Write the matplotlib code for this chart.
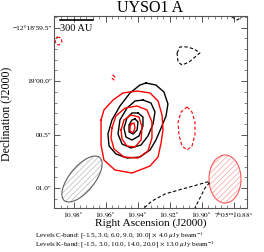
import numpy as np
import matplotlib
matplotlib.use("Agg")
import matplotlib.pyplot as plt
from matplotlib.patches import Ellipse

plt.rcParams['font.family'] = ['Liberation Serif', 'DejaVu Serif']
plt.rcParams['mathtext.fontset'] = 'stix'
plt.rcParams['hatch.linewidth'] = 0.6

# 轮廓线顶点：RA 秒 (7h05m xx.xxs) / Dec 角秒 (-12d18m xx.xx")
# 黑色 = 正等值线 (实线)
black_pos = [
    ([10.9348, 10.9286, 10.9236, 10.9211, 10.9223, 10.9254, 10.9286, 10.9323, 10.9386,
      10.9467, 10.9536, 10.9579, 10.9586, 10.9561, 10.9511, 10.9448, 10.9386],
     [60.017, 60.036, 60.101, 60.213, 60.325, 60.438, 60.550, 60.643, 60.709,
      60.718, 60.680, 60.606, 60.494, 60.363, 60.232, 60.110, 60.036]),
    ([10.9367, 10.9317, 10.9292, 10.9304, 10.9336, 10.9379, 10.9442, 10.9498, 10.9523,
      10.9511, 10.9467, 10.9417],
     [60.176, 60.204, 60.288, 60.400, 60.512, 60.596, 60.624, 60.587, 60.494,
      60.363, 60.251, 60.185]),
    ([10.9398, 10.9367, 10.9367, 10.9392, 10.9436, 10.9473, 10.9486, 10.9467, 10.9436],
     [60.297, 60.335, 60.419, 60.512, 60.550, 60.522, 60.438, 60.344, 60.297]),
    ([10.9417, 10.9398, 10.9404, 10.9429, 10.9454, 10.9454, 10.9436],
     [60.353, 60.381, 60.456, 60.494, 60.475, 60.409, 60.363]),
]
red_pos = [
    ([10.9629, 10.9611, 10.9554, 10.9492, 10.9404, 10.9323, 10.9273, 10.9248, 10.9242,
      10.9254, 10.9273, 10.9323, 10.9436, 10.9542, 10.9611, 10.9629, 10.9629],
     [60.363, 60.269, 60.176, 60.110, 60.092, 60.110, 60.185, 60.316, 60.456,
      60.578, 60.709, 60.793, 60.858, 60.830, 60.737, 60.596, 60.456]),
    ([10.9561, 10.9536, 10.9479, 10.9404, 10.9342, 10.9311, 10.9311, 10.9336, 10.9398,
      10.9486, 10.9548, 10.9567],
     [60.438, 60.325, 60.251, 60.232, 60.269, 60.381, 60.531, 60.652, 60.718,
      60.709, 60.634, 60.531]),
    ([10.9504, 10.9486, 10.9442, 10.9392, 10.9373, 10.9379, 10.9417, 10.9467, 10.9498],
     [60.456, 60.363, 60.316, 60.335, 60.428, 60.550, 60.615, 60.606, 60.540]),
    ([10.9442, 10.9423, 10.9417, 10.9429, 10.9448, 10.9448],
     [60.400, 60.391, 60.438, 60.484, 60.465, 60.428]),
]
# 负等值线 (虚线)；最后一个 bool = 是否闭合
red_neg = [
    ([10.9904, 10.9879, 10.9873, 10.9892, 10.9911, 10.9917],
     [59.587, 59.596, 59.634, 59.662, 59.652, 59.615], True),
    ([10.9554, 10.9542, 10.9548, 10.9561],
     [59.942, 59.961, 59.989, 59.970], True),
    ([10.9092, 10.9061, 10.9042, 10.9042, 10.9061, 10.9092, 10.9123, 10.9142, 10.9148, 10.9129],
     [60.241, 60.288, 60.381, 60.503, 60.606, 60.643, 60.606, 60.503, 60.381, 60.288], True),
]
black_neg = [
    ([10.9154, 10.9136, 10.9092, 10.9048, 10.9011, 10.9042, 10.9079, 10.9123, 10.9148],
     [59.736, 59.680, 59.680, 59.699, 59.736, 59.774, 59.821, 59.849, 59.821], True),
    ([10.8829, 10.8811, 10.8779, 10.8748, 10.8729],
     [59.353, 59.400, 59.428, 59.400, 59.353], False),
    ([10.9379, 10.9361, 10.9311, 10.9229, 10.9123, 10.9029, 10.8967, 10.8948, 10.8979,
      10.9011, 10.9042, 10.9054],
     [61.223, 61.185, 61.120, 61.054, 61.008, 60.970, 60.942, 60.942, 60.998,
      61.092, 61.185, 61.223], False),
]

ra_ticks = [10.98, 10.96, 10.94, 10.92, 10.90, 10.88]
ra_labels = [r'$10.98^{\rm s}$', r'$10.96^{\rm s}$', r'$10.94^{\rm s}$',
             r'$10.92^{\rm s}$', r'$10.90^{\rm s}$', r'$7^{\rm h}05^{\rm m}10.88^{\rm s}$']
dec_ticks = [59.5, 60.0, 60.5, 61.0]
dec_labels = ['\u221212\u00b018\u203259.5\u2033', '19\u203200.0\u2033', '00.5\u2033', '01.0\u2033']

levels_c = "Levels C-band: [-1.5, 3.0, 6.0, 9.0, 10.0] $\\times$ 4.0 $\\mu$Jy beam$^{-1}$"
levels_k = "Levels K-band: [-1.5, 3.0, 10.0, 14.0, 20.0] $\\times$ 13.0 $\\mu$Jy beam$^{-1}$"


def draw(ax, ra, dec, color, ls, lw, closed=True):
    ra, dec = list(ra), list(dec)
    if closed:
        ra, dec = ra + ra[:1], dec + dec[:1]
    ax.plot(ra, dec, color=color, ls=ls, lw=lw, solid_joinstyle='round',
            dash_capstyle='butt', clip_on=True)


fig = plt.figure(figsize=(2.64, 2.52), dpi=100)
ax = fig.add_axes([54 / 264, 44 / 252, 193 / 264, 192 / 252])

for ra, dec in black_pos:
    draw(ax, ra, dec, 'black', '-', 1.0)
for ra, dec in red_pos:
    draw(ax, ra, dec, 'red', '-', 1.0)
for ra, dec, cl in black_neg:
    draw(ax, ra, dec, 'black', (0, (3, 2)), 0.8, cl)
for ra, dec, cl in red_neg:
    draw(ax, ra, dec, 'red', (0, (3, 2)), 0.8, cl)

# 波束
ax.add_patch(Ellipse((0.145, 0.151), 0.29, 0.13, angle=51, transform=ax.transAxes,
                     facecolor='none', edgecolor='#c4c4c4', hatch='//////', lw=0))
ax.add_patch(Ellipse((0.145, 0.151), 0.29, 0.13, angle=51, transform=ax.transAxes,
                     facecolor='none', edgecolor='#606060', lw=0.8))
ax.add_patch(Ellipse((0.886, 0.151), 0.166, 0.25, angle=0, transform=ax.transAxes,
                     facecolor='none', edgecolor='#f6b0b0', hatch='//////', lw=0))
ax.add_patch(Ellipse((0.886, 0.151), 0.166, 0.25, angle=0, transform=ax.transAxes,
                     facecolor='none', edgecolor='#ff5a5a', lw=0.8))

# 比例尺
ax.plot([0.031, 0.202], [0.978, 0.978], color='black', lw=1.2, transform=ax.transAxes)
ax.text(0.117, 0.937, '300 AU', transform=ax.transAxes, ha='center', va='center', fontsize=7.5)

ax.set_xlim(10.99231, 10.87169)
ax.set_ylim(61.185, 59.391)
ax.set_xticks(ra_ticks)
ax.set_xticklabels(ra_labels)
ax.set_xticks(np.arange(10.872, 10.992, 0.004), minor=True)
ax.set_yticks(dec_ticks)
ax.set_yticklabels(dec_labels)
ax.set_yticks(np.arange(59.4, 61.15, 0.1), minor=True)
ax.tick_params(which='both', direction='in', top=True, right=True, labelsize=5.3,
               color='#555555', pad=1.5)
ax.tick_params(which='major', length=4, width=0.7)
ax.tick_params(which='minor', length=2, width=0.5)
for s in ax.spines.values():
    s.set_color('#555555')
    s.set_linewidth(0.8)

ax.set_title('UYSO1 A', fontsize=11.5, pad=3)
ax.set_xlabel('Right Ascension (J2000)', fontsize=8.2)
ax.xaxis.set_label_coords(0.5, -0.052)
ax.set_ylabel('Declination (J2000)', fontsize=8.5, va='center')
ax.yaxis.set_label_coords(-0.245, 0.49)

fig.text(35 / 264, 1 - 235.5 / 252, levels_c, fontsize=5.1, ha='left', va='center')
fig.text(35 / 264, 1 - 245 / 252, levels_k, fontsize=5.1, ha='left', va='center')

fig.savefig('out.png', dpi=100)
